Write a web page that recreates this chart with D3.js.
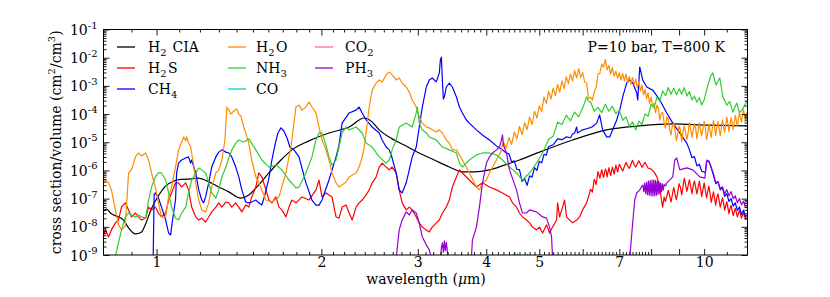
<!DOCTYPE html>
<html><head><meta charset="utf-8">
<script src="https://cdn.jsdelivr.net/npm/d3@7"></script>
<style>
body{margin:0;background:#fff}
svg{display:block}
text{font-family:"DejaVu Serif",serif;fill:#000}
</style>
</head><body>
<svg id="c" width="830" height="297"></svg>
<script>
// ---------------- DATA (wavelength in µm, log10 of cross section/volume in cm^2/cm^3) -------------
const seriesNames  = ["H2 CIA","H2S","CH4","H2O","NH3","CO","CO2","PH3"];
const seriesColors = ["#000000","#ff0000","#0000ff","#ff8c00","#32cd32","#00ced1","#ff69b4","#9400d3"];

const xMajorTicks   = [1,2,3,4,5,6,7,8,9,10];
const xLabeledTicks = [1,2,3,4,5,7,10];
const xMinorTicks   = [0.9,1.1,1.2,1.3,1.4,1.5,1.6,1.7,1.8,1.9,2.1,2.2,2.3,2.4,2.5,2.6,2.7,2.8,2.9,
  3.1,3.2,3.3,3.4,3.5,3.6,3.7,3.8,3.9,4.1,4.2,4.3,4.4,4.5,4.6,4.7,4.8,4.9,5.1,5.2,5.3,5.4,5.5,5.6,5.7,5.8,5.9,
  6.1,6.2,6.3,6.4,6.5,6.6,6.7,6.8,6.9,7.1,7.2,7.3,7.4,7.5,7.6,7.7,7.8,7.9,11];
const yExponents = [-9,-8,-7,-6,-5,-4,-3,-2,-1];
const annotation = "P=10 bar, T=800 K";

const h2cia = [[0.80,-7.44],[0.810,-7.37],[0.827,-7.54],[0.845,-7.62],[0.870,-7.76],[0.889,-8.04],[0.915,-8.25],[0.939,-8.18],[0.955,-7.90],[0.979,-7.35],[1.008,-6.90],[1.039,-6.55],[1.074,-6.38],[1.107,-6.32],[1.159,-6.30],[1.194,-6.27],[1.235,-6.37],[1.288,-6.55],[1.355,-6.76],[1.425,-6.98],[1.474,-6.87],[1.524,-6.59],[1.604,-6.09],[1.687,-5.63],[1.767,-5.27],[1.898,-4.95],[2.065,-4.67],[2.247,-4.46],[2.394,-4.14],[2.466,-4.25],[2.550,-4.56],[2.693,-4.88],[2.833,-5.10],[3.018,-5.38],[3.215,-5.63],[3.425,-5.88],[3.619,-6.05],[3.806,-6.05],[4.054,-5.98],[4.319,-5.81],[4.600,-5.63],[5.005,-5.35],[5.751,-4.92],[6.637,-4.56],[7.627,-4.42],[8.764,-4.35],[10.11,-4.39],[12.0,-4.42]];

const h2s = [[0.800,-8.32],[0.807,-8.11],[0.817,-8.36],[0.827,-8.11],[0.841,-7.86],[0.852,-7.76],[0.863,-7.30],[0.877,-7.15],[0.889,-7.40],[0.900,-7.65],[0.915,-7.51],[0.927,-7.65],[0.939,-7.76],[0.955,-7.69],[0.967,-7.30],[0.979,-7.40],[0.995,-7.30],[1.008,-7.51],[1.021,-7.65],[1.039,-7.51],[1.052,-7.05],[1.065,-6.80],[1.083,-6.44],[1.097,-6.44],[1.111,-6.59],[1.130,-6.44],[1.144,-6.69],[1.159,-7.30],[1.179,-7.65],[1.194,-7.76],[1.209,-7.69],[1.229,-7.83],[1.245,-7.65],[1.261,-7.47],[1.283,-7.30],[1.299,-7.15],[1.316,-7.30],[1.338,-7.12],[1.355,-7.15],[1.372,-7.30],[1.395,-7.15],[1.413,-7.30],[1.431,-7.47],[1.455,-7.23],[1.474,-7.30],[1.492,-6.94],[1.518,-6.59],[1.537,-6.09],[1.557,-6.23],[1.584,-6.69],[1.604,-7.05],[1.624,-7.15],[1.652,-6.94],[1.673,-7.30],[1.694,-7.40],[1.723,-7.65],[1.745,-7.30],[1.767,-7.05],[1.797,-7.15],[1.843,-6.94],[1.898,-7.05],[1.955,-6.69],[1.980,-6.34],[2.005,-6.94],[2.039,-6.80],[2.091,-6.94],[2.127,-7.65],[2.154,-7.69],[2.182,-7.30],[2.219,-7.23],[2.247,-7.51],[2.276,-7.76],[2.314,-7.30],[2.344,-7.15],[2.374,-7.05],[2.414,-6.87],[2.445,-6.69],[2.476,-6.44],[2.518,-6.23],[2.550,-5.88],[2.582,-5.74],[2.626,-5.88],[2.660,-5.98],[2.693,-5.88],[2.739,-6.09],[2.774,-6.69],[2.809,-7.15],[2.857,-7.40],[2.894,-7.30],[2.930,-7.40],[2.980,-7.65],[3.018,-7.86],[3.057,-8.01],[3.109,-8.11],[3.148,-8.18],[3.188,-8.01],[3.242,-7.86],[3.284,-7.76],[3.326,-7.51],[3.382,-7.30],[3.425,-7.05],[3.469,-6.59],[3.528,-6.23],[3.573,-5.98],[3.619,-6.09],[3.726,-6.34],[3.838,-6.59],[3.937,-6.44],[4.054,-6.59],[4.175,-6.69],[4.283,-6.80],[4.411,-6.94],[4.467,-7.15],[4.543,-7.30],[4.600,-7.51],[4.658,-7.65],[4.738,-7.76],[4.799,-7.86],[4.860,-8.01],[4.942,-8.11],[5.005,-8.01],[5.069,-8.22],[5.155,-7.93],[5.220,-8.22],[5.287,-8.01],[5.377,-7.76],[5.400,-7.15],[5.445,-7.65],[5.515,-7.30],[5.561,-7.05],[5.608,-7.65],[5.679,-7.76],[5.751,-7.86],[5.849,-7.76],[5.924,-7.65],[5.999,-7.40],[6.101,-7.15],[6.178,-6.80],[6.20,-6.66],[6.25,-6.77],[6.30,-6.32],[6.33,-6.40],[6.35,-6.50],[6.40,-6.04],[6.45,-6.27],[6.48,-6.10],[6.50,-5.97],[6.55,-6.25],[6.60,-5.95],[6.63,-6.05],[6.65,-6.23],[6.70,-5.90],[6.75,-6.18],[6.78,-6.00],[6.80,-5.88],[6.85,-6.13],[6.90,-5.81],[6.95,-6.05],[7.00,-5.78],[7.05,-5.90],[7.10,-6.02],[7.20,-5.71],[7.25,-5.85],[7.30,-5.93],[7.40,-5.64],[7.45,-5.80],[7.50,-5.88],[7.60,-5.66],[7.70,-5.89],[7.80,-5.71],[7.90,-5.92],[8.00,-5.95],[8.10,-6.05],[8.20,-6.23],[8.30,-6.59],[8.35,-7.00],[8.40,-7.30],[8.45,-6.95],[8.50,-7.10],[8.60,-6.71],[8.65,-6.90],[8.70,-7.12],[8.80,-6.60],[8.85,-6.85],[8.90,-7.04],[9.00,-6.47],[9.05,-6.60],[9.10,-6.87],[9.20,-6.27],[9.25,-6.50],[9.30,-6.74],[9.40,-6.33],[9.50,-6.82],[9.55,-6.55],[9.60,-6.37],[9.70,-6.83],[9.75,-6.60],[9.80,-6.39],[9.90,-6.92],[10.0,-6.44],[10.05,-6.70],[10.1,-6.97],[10.2,-6.56],[10.25,-6.80],[10.3,-7.13],[10.4,-6.76],[10.5,-7.23],[10.55,-6.95],[10.6,-6.83],[10.7,-7.30],[10.8,-6.97],[10.85,-7.15],[10.9,-7.41],[11.0,-7.11],[11.1,-7.53],[11.15,-7.35],[11.2,-7.25],[11.3,-7.60],[11.4,-7.34],[11.45,-7.50],[11.5,-7.65],[11.6,-7.41],[11.7,-7.69],[11.8,-7.50],[11.9,-7.74],[12.0,-7.65]];

const ch4 = [[0.985,-9.5],[0.990,-6.85],[0.995,-6.80],[1.008,-6.98],[1.021,-7.30],[1.039,-7.76],[1.052,-8.22],[1.061,-8.29],[1.065,-8.01],[1.083,-7.05],[1.088,-6.09],[1.097,-5.74],[1.111,-5.63],[1.130,-5.56],[1.144,-5.52],[1.154,-5.74],[1.159,-5.63],[1.179,-6.09],[1.194,-6.69],[1.209,-7.05],[1.219,-7.15],[1.229,-6.94],[1.245,-6.44],[1.261,-5.88],[1.283,-5.52],[1.299,-5.35],[1.316,-5.27],[1.338,-5.35],[1.355,-5.38],[1.372,-5.52],[1.395,-5.88],[1.413,-6.23],[1.431,-6.69],[1.455,-7.12],[1.474,-7.15],[1.492,-7.12],[1.518,-7.05],[1.537,-7.15],[1.557,-7.23],[1.577,-6.87],[1.604,-6.27],[1.624,-5.63],[1.645,-5.10],[1.666,-4.67],[1.687,-4.49],[1.708,-4.60],[1.731,-4.85],[1.752,-5.17],[1.782,-5.27],[1.820,-5.52],[1.874,-6.44],[1.922,-7.05],[1.955,-7.23],[1.980,-7.23],[2.005,-7.05],[2.065,-6.34],[2.127,-5.52],[2.154,-5.10],[2.182,-4.32],[2.247,-3.96],[2.314,-3.86],[2.344,-3.75],[2.374,-3.96],[2.414,-4.21],[2.476,-4.46],[2.550,-4.67],[2.582,-4.92],[2.626,-5.17],[2.660,-5.27],[2.693,-5.56],[2.739,-6.09],[2.774,-6.69],[2.809,-6.80],[2.857,-6.44],[2.894,-5.98],[2.930,-5.52],[2.980,-5.17],[3.018,-4.46],[3.057,-3.75],[3.109,-3.04],[3.148,-2.79],[3.188,-2.72],[3.242,-2.86],[3.284,-2.54],[3.298,-2.08],[3.312,-1.98],[3.326,-2.79],[3.340,-3.47],[3.354,-3.39],[3.382,-3.04],[3.425,-2.90],[3.469,-3.04],[3.528,-3.39],[3.573,-3.75],[3.619,-3.96],[3.680,-4.21],[3.726,-4.32],[3.838,-4.56],[3.937,-4.74],[4.054,-4.92],[4.175,-5.13],[4.283,-5.27],[4.35,-5.38],[4.40,-5.41],[4.45,-5.69],[4.50,-5.66],[4.55,-5.96],[4.60,-5.97],[4.65,-6.39],[4.70,-6.29],[4.75,-6.53],[4.80,-6.19],[4.85,-6.24],[4.90,-5.90],[4.95,-6.00],[5.00,-5.68],[5.05,-5.73],[5.10,-5.43],[5.15,-5.46],[5.20,-5.15],[5.30,-5.09],[5.40,-4.88],[5.50,-4.91],[5.60,-4.81],[5.70,-4.84],[5.75,-4.71],[5.80,-4.67],[5.85,-4.46],[5.87,-4.67],[5.999,-4.56],[6.10,-4.52],[6.178,-4.49],[6.25,-4.45],[6.364,-4.32],[6.444,-4.03],[6.526,-4.56],[6.637,-4.81],[6.721,-4.81],[6.807,-4.56],[6.923,-4.21],[7.011,-3.86],[7.100,-3.39],[7.221,-2.90],[7.312,-2.79],[7.405,-2.90],[7.532,-3.25],[7.564,-3.50],[7.627,-2.33],[7.724,-2.79],[7.855,-3.04],[8.056,-3.15],[8.297,-3.50],[8.546,-3.96],[8.764,-4.32],[9.026,-4.67],[9.296,-5.03],[9.40,-5.27],[9.50,-5.55],[9.60,-5.51],[9.70,-5.84],[9.80,-5.78],[9.90,-6.03],[10.0,-6.05],[10.05,-6.09],[10.1,-5.70],[10.2,-5.66],[10.3,-5.91],[10.4,-6.17],[10.5,-6.47],[10.6,-6.40],[10.7,-6.69],[10.8,-6.61],[10.9,-6.92],[11.0,-6.82],[11.1,-7.10],[11.2,-7.00],[11.3,-7.27],[11.4,-7.15],[11.5,-7.42],[11.6,-7.29],[11.7,-7.56],[11.8,-7.41],[11.9,-7.64],[12.0,-7.58]];

const h2o = [[0.800,-6.41],[0.807,-6.34],[0.817,-6.44],[0.827,-6.69],[0.841,-7.40],[0.852,-7.93],[0.863,-8.11],[0.877,-7.97],[0.881,-7.30],[0.889,-6.09],[0.900,-5.98],[0.915,-5.52],[0.927,-5.38],[0.939,-5.49],[0.955,-5.38],[0.967,-5.63],[0.979,-6.09],[0.995,-6.59],[1.008,-7.15],[1.021,-7.65],[1.039,-7.65],[1.052,-6.94],[1.065,-6.59],[1.083,-5.88],[1.097,-5.27],[1.111,-4.99],[1.121,-4.81],[1.130,-4.95],[1.135,-4.81],[1.144,-5.03],[1.154,-5.17],[1.169,-5.81],[1.179,-6.44],[1.194,-7.05],[1.209,-7.40],[1.229,-7.47],[1.245,-7.15],[1.261,-6.59],[1.283,-6.09],[1.299,-5.98],[1.316,-5.63],[1.333,-4.92],[1.344,-3.75],[1.355,-3.86],[1.366,-4.00],[1.384,-3.89],[1.401,-3.82],[1.413,-4.00],[1.425,-4.07],[1.443,-4.46],[1.462,-4.81],[1.474,-5.03],[1.492,-5.63],[1.518,-6.23],[1.537,-6.44],[1.584,-7.05],[1.624,-7.12],[1.673,-6.94],[1.723,-6.09],[1.745,-5.52],[1.760,-5.17],[1.797,-3.75],[1.820,-3.68],[1.843,-3.86],[1.874,-3.75],[1.898,-3.57],[1.922,-3.75],[1.955,-3.96],[1.980,-4.46],[2.005,-4.92],[2.039,-5.27],[2.065,-5.63],[2.091,-6.09],[2.127,-6.44],[2.154,-6.59],[2.219,-6.41],[2.247,-6.23],[2.314,-6.09],[2.344,-5.88],[2.374,-5.52],[2.394,-5.17],[2.414,-4.67],[2.445,-3.75],[2.476,-3.15],[2.518,-2.90],[2.550,-2.79],[2.582,-2.86],[2.626,-2.61],[2.660,-2.51],[2.693,-2.61],[2.739,-2.79],[2.774,-2.72],[2.809,-2.90],[2.857,-3.04],[2.894,-3.22],[2.930,-3.50],[2.980,-3.75],[3.018,-4.10],[3.057,-4.32],[3.109,-4.46],[3.148,-4.49],[3.188,-4.56],[3.242,-4.64],[3.284,-4.56],[3.326,-4.67],[3.382,-4.92],[3.425,-5.03],[3.469,-5.27],[3.528,-5.27],[3.619,-5.63],[3.726,-6.09],[3.838,-6.59],[3.887,-6.69],[3.937,-6.44],[4.003,-6.34],[4.054,-6.09],[4.175,-5.63],[4.25,-5.35],
 [4.30,-4.98],[4.35,-5.21],[4.40,-4.83],[4.45,-5.08],[4.50,-4.63],[4.55,-4.89],[4.60,-4.44],[4.65,-4.74],[4.70,-4.31],[4.75,-4.55],[4.80,-4.10],[4.85,-4.37],[4.90,-3.90],[4.95,-4.14],[5.00,-3.71],[5.05,-3.91],[5.10,-3.39],[5.15,-3.62],[5.20,-3.19],[5.25,-3.47],[5.30,-3.08],[5.35,-3.35],[5.40,-2.95],[5.45,-3.22],[5.50,-2.82],[5.55,-3.10],[5.60,-2.67],[5.65,-2.92],[5.70,-2.58],[5.75,-2.83],[5.80,-2.46],[5.85,-2.72],[5.90,-2.39],[5.95,-2.70],[6.00,-2.53],[6.05,-2.86],[6.10,-2.90],[6.15,-3.44],[6.20,-3.40],[6.25,-3.51],[6.30,-3.20],[6.35,-3.07],[6.40,-2.58],[6.45,-2.56],[6.50,-2.23],[6.55,-2.34],[6.60,-2.07],[6.65,-2.43],[6.70,-2.28],[6.75,-2.58],[6.80,-2.35],[6.85,-2.65],[6.90,-2.48],[6.95,-2.73],[7.00,-2.53],[7.05,-2.80],[7.10,-2.56],[7.15,-2.82],[7.20,-2.58],[7.25,-2.87],[7.30,-2.67],[7.35,-2.95],[7.40,-2.71],[7.45,-2.98],[7.50,-2.76],[7.55,-3.07],[7.60,-2.85],[7.65,-3.18],[7.70,-2.97],[7.75,-3.32],[7.80,-3.13],[7.85,-3.46],[7.90,-3.25],[7.95,-3.62],
 [8.00,-3.41],[8.05,-3.70],[8.10,-3.62],[8.15,-3.95],[8.20,-3.68],[8.25,-3.80],[8.30,-4.21],[8.35,-3.98],[8.40,-3.94],[8.45,-4.30],[8.50,-4.50],[8.55,-4.10],[8.60,-4.17],[8.65,-4.55],[8.70,-4.74],[8.75,-4.40],[8.80,-4.31],[8.85,-4.62],[8.90,-4.94],[8.95,-4.70],[9.00,-4.43],[9.05,-4.58],[9.10,-4.99],[9.15,-4.62],[9.20,-4.42],[9.30,-4.91],[9.35,-4.66],[9.40,-4.30],[9.45,-4.55],[9.50,-4.83],[9.60,-4.34],[9.65,-4.50],[9.70,-4.88],[9.80,-4.31],[9.85,-4.60],[9.90,-4.76],[10.0,-4.26],[10.05,-4.45],[10.1,-4.91],[10.15,-4.70],[10.2,-4.36],[10.3,-4.83],[10.35,-4.50],[10.4,-4.23],[10.5,-4.76],[10.55,-4.45],[10.6,-4.27],[10.7,-4.77],[10.75,-4.52],[10.8,-4.21],[10.9,-4.64],[10.95,-4.38],[11.0,-4.11],[11.1,-4.62],[11.15,-4.35],[11.2,-4.13],[11.3,-4.55],[11.35,-4.30],[11.4,-4.05],[11.5,-4.42],[11.55,-4.18],[11.6,-3.94],[11.7,-4.29],[11.75,-4.06],[11.8,-3.85],[11.9,-4.18],[11.95,-3.98],[12.0,-3.93]];

const nh3 = [[0.835,-9.3],[0.852,-8.57],[0.863,-8.11],[0.877,-7.65],[0.889,-7.51],[0.900,-7.58],[0.915,-7.65],[0.927,-7.58],[0.939,-7.65],[0.955,-7.69],[0.967,-7.05],[0.979,-6.59],[0.995,-6.23],[1.008,-6.09],[1.021,-6.09],[1.039,-6.34],[1.052,-6.80],[1.065,-7.30],[1.083,-7.69],[1.097,-7.76],[1.111,-7.51],[1.130,-7.30],[1.144,-6.80],[1.159,-6.34],[1.179,-6.09],[1.194,-5.91],[1.209,-5.98],[1.229,-6.09],[1.245,-6.44],[1.261,-6.80],[1.283,-6.98],[1.299,-6.69],[1.316,-6.23],[1.338,-5.88],[1.355,-5.56],[1.372,-5.27],[1.395,-5.03],[1.413,-4.92],[1.443,-4.99],[1.474,-4.88],[1.518,-5.27],[1.557,-5.63],[1.604,-5.88],[1.652,-5.81],[1.694,-5.98],[1.745,-6.34],[1.797,-6.62],[1.820,-6.59],[1.874,-6.09],[1.922,-5.52],[1.955,-4.92],[1.980,-4.67],[2.005,-4.67],[2.039,-5.10],[2.065,-5.52],[2.091,-5.81],[2.127,-5.63],[2.154,-5.17],[2.182,-4.67],[2.219,-4.46],[2.247,-4.56],[2.314,-4.46],[2.374,-4.67],[2.414,-5.03],[2.476,-5.17],[2.550,-5.52],[2.626,-5.74],[2.660,-5.63],[2.693,-5.27],[2.739,-4.92],[2.774,-4.46],[2.857,-4.32],[2.930,-4.46],[2.980,-3.96],[2.993,-3.75],[3.018,-4.32],[3.057,-4.56],[3.109,-4.67],[3.148,-4.81],[3.242,-4.92],[3.326,-5.17],[3.425,-5.27],[3.528,-5.38],[3.573,-5.74],[3.619,-5.88],[3.726,-5.63],[3.838,-5.45],[3.937,-5.38],[4.054,-5.38],[4.175,-5.45],[4.283,-5.63],[4.411,-5.88],[4.543,-6.09],[4.658,-6.34],[4.799,-6.09],[4.942,-5.74],[5.069,-5.38],[5.20,-4.89],[5.30,-4.79],[5.40,-4.29],[5.50,-4.37],[5.60,-4.04],[5.70,-4.24],[5.80,-3.93],[5.90,-4.10],[6.00,-3.78],[6.05,-3.60],[6.10,-3.39],[6.15,-3.55],[6.20,-3.56],[6.30,-3.90],[6.40,-3.76],[6.50,-3.95],[6.60,-3.65],[6.70,-3.90],[6.80,-3.72],[6.90,-3.98],[7.00,-3.86],[7.10,-4.22],[7.20,-4.10],[7.30,-4.44],[7.40,-4.28],[7.50,-4.56],[7.60,-4.25],[7.70,-4.37],[7.80,-4.00],[7.90,-4.08],[8.00,-3.66],[8.10,-3.78],[8.20,-3.40],[8.30,-3.55],[8.40,-3.18],[8.50,-3.35],[8.60,-3.06],[8.70,-3.30],[8.80,-3.08],[8.90,-3.32],[9.00,-3.10],[9.10,-3.30],[9.20,-3.06],[9.30,-3.36],[9.40,-3.20],[9.50,-3.50],[9.60,-3.36],[9.70,-3.58],[9.80,-3.42],[9.90,-3.68],[10.0,-3.50],[10.16,-2.97],[10.28,-2.65],[10.37,-2.54],[10.51,-2.97],[10.68,-2.72],[10.82,-3.39],[11.00,-3.68],[11.14,-3.55],[11.28,-3.93],[11.47,-3.61],[11.60,-3.95],[11.72,-3.86],[11.85,-3.70],[12.0,-3.50]];

const co  = [[4.45,-9.3],[4.50,-8.93],[4.53,-9.2],[4.56,-8.95],[4.60,-9.2],[4.74,-9.2],[4.76,-8.97],[4.79,-9.3]];
const co2 = [[4.20,-9.4],[4.26,-9.2],[4.32,-9.4]];

const ph3 = [[2.739,-9.11],[2.774,-8.11],[2.809,-7.76],[2.857,-7.47],[2.894,-7.58],[2.930,-7.40],[2.980,-7.51],[3.018,-7.86],[3.057,-8.36],[3.109,-8.64],[3.148,-8.82],[3.175,-9.11],[3.30,-9.2],[3.312,-8.75],[3.326,-8.57],[3.340,-8.90],[3.354,-8.50],[3.368,-8.85],[3.382,-8.55],[3.400,-8.95],[3.420,-9.2],[3.758,-9.11],[3.774,-8.47],[3.838,-8.01],[3.887,-7.30],[3.937,-6.44],[4.003,-5.74],[4.054,-5.52],[4.106,-5.38],[4.175,-5.27],[4.229,-5.17],[4.265,-4.92],[4.283,-4.74],[4.300,-5.10],[4.355,-5.38],[4.411,-5.98],[4.543,-6.69],[4.600,-7.15],[4.658,-7.51],[4.738,-7.51],[4.799,-7.40],[4.942,-7.47],[5.069,-7.65],[5.155,-7.69],[5.220,-8.01],[5.265,-8.36],[5.287,-9.11],[7.312,-9.11],[7.405,-7.86],[7.468,-7.05],[7.532,-6.80],[7.627,-6.69],[7.70,-6.55],[7.73,-6.52],[7.76,-6.75],[7.79,-6.45],[7.82,-6.82],[7.85,-6.42],[7.88,-6.86],[7.91,-6.38],[7.94,-6.88],[7.97,-6.36],[8.00,-6.90],[8.03,-6.34],[8.06,-6.90],[8.09,-6.34],[8.12,-6.90],[8.15,-6.35],[8.18,-6.88],[8.21,-6.38],[8.24,-6.85],[8.27,-6.40],[8.30,-6.82],[8.33,-6.45],[8.36,-6.75],[8.39,-6.48],[8.42,-6.70],[8.45,-6.50],[8.50,-6.55],[8.546,-6.44],[8.764,-6.23],[8.838,-5.63],[8.913,-5.56],[9.026,-5.98],[9.296,-5.91],[9.534,-5.98],[9.820,-6.23],[10.03,-6.27],[10.11,-5.63],[10.24,-5.74],[10.4,-6.12],[10.5,-6.42],[10.6,-6.40],[10.7,-6.65],[10.8,-6.58],[10.9,-6.83],[11.0,-6.68],[11.1,-6.90],[11.2,-6.75],[11.3,-7.00],[11.4,-6.90],[11.5,-7.15],[11.6,-7.00],[11.7,-7.22],[11.8,-7.09],[11.9,-7.31],[12.0,-7.30]];

const seriesData = [h2cia, h2s, ch4, h2o, nh3, co, co2, ph3];

// ---------------- LAYOUT ----------------
const L = 103.5, R = 747.5, T = 29.5, B = 255;
const svg = d3.select("#c");
const x = d3.scaleLog().domain([0.8, 12]).range([L, R]);
const y = d3.scaleLog().domain([1e-9, 1e-1]).range([B, T]);

svg.append("defs").append("clipPath").attr("id","clip")
  .append("rect").attr("x",L).attr("y",T).attr("width",R-L).attr("height",B-T);

const line = d3.line().x(d => x(d[0])).y(d => y(Math.pow(10, d[1])));
const smooth = d3.line().curve(d3.curveMonotoneX).x(d => x(d[0])).y(d => y(Math.pow(10, d[1])));

const gLines = svg.append("g").attr("clip-path","url(#clip)");
seriesData.forEach((data, i) => {
  gLines.append("path").datum(data)
    .attr("d", i === 0 ? smooth : line)
    .attr("fill","none").attr("stroke", seriesColors[i])
    .attr("stroke-width", 1.2).attr("stroke-linejoin","round");
});

// ---------------- AXES ----------------
const yMajor = yExponents.map(e => Math.pow(10, e));
const yMinor = [];
yExponents.slice(0, -1).forEach(e => { for (let k = 2; k <= 9; k++) yMinor.push(k * Math.pow(10, e)); });

function styleAxis(g){ g.select(".domain").remove(); g.selectAll(".tick line").attr("stroke","#000").attr("stroke-width",0.9); }

svg.append("g").attr("transform",`translate(0,${B})`)
  .call(d3.axisBottom(x).tickValues(xMajorTicks).tickSizeInner(-6).tickSizeOuter(0).tickPadding(2)
    .tickFormat(d => xLabeledTicks.includes(d) ? String(d) : ""))
  .call(styleAxis)
  .call(g => g.selectAll(".tick text").attr("font-size",14).attr("font-family","DejaVu Serif, serif").attr("fill","#000"));
svg.append("g").attr("transform",`translate(0,${B})`)
  .call(d3.axisBottom(x).tickValues(xMinorTicks).tickSizeInner(-3).tickSizeOuter(0).tickFormat(""))
  .call(styleAxis);
svg.append("g").attr("transform",`translate(0,${T})`)
  .call(d3.axisTop(x).tickValues(xMajorTicks).tickSizeInner(-6).tickSizeOuter(0).tickFormat(""))
  .call(styleAxis);
svg.append("g").attr("transform",`translate(0,${T})`)
  .call(d3.axisTop(x).tickValues(xMinorTicks).tickSizeInner(-3).tickSizeOuter(0).tickFormat(""))
  .call(styleAxis);

svg.append("g").attr("transform",`translate(${L},0)`)
  .call(d3.axisLeft(y).tickValues(yMajor).tickSizeInner(-6).tickSizeOuter(0).tickPadding(6).tickFormat(() => ""))
  .call(styleAxis)
  .call(g => g.selectAll(".tick text").each(function(d){
    const t = d3.select(this).attr("font-size",14).attr("font-family","DejaVu Serif, serif").attr("fill","#000").attr("dy","0.36em");
    t.append("tspan").text("10");
    t.append("tspan").attr("dy",-6.5).attr("font-size",10).text(String(Math.round(Math.log10(d))));
  }));
svg.append("g").attr("transform",`translate(${L},0)`)
  .call(d3.axisLeft(y).tickValues(yMinor).tickSizeInner(-3).tickSizeOuter(0).tickFormat(""))
  .call(styleAxis);
svg.append("g").attr("transform",`translate(${R},0)`)
  .call(d3.axisRight(y).tickValues(yMajor).tickSizeInner(-6).tickSizeOuter(0).tickFormat(""))
  .call(styleAxis);
svg.append("g").attr("transform",`translate(${R},0)`)
  .call(d3.axisRight(y).tickValues(yMinor).tickSizeInner(-3).tickSizeOuter(0).tickFormat(""))
  .call(styleAxis);

svg.append("rect").attr("x",L).attr("y",T).attr("width",R-L).attr("height",B-T)
  .attr("fill","none").attr("stroke","#000").attr("stroke-width",1);

// axis titles
const xt = svg.append("text").attr("x",(L+R)/2 + 0.5).attr("y",284).attr("text-anchor","middle").attr("font-size",14);
xt.append("tspan").text("wavelength (");
xt.append("tspan").attr("font-style","italic").text("μ");
xt.append("tspan").text("m)");

const yt = svg.append("text").attr("transform",`translate(61,${(T+B)/2}) rotate(-90)`).attr("text-anchor","middle").attr("font-size",14);
yt.append("tspan").text("cross section/volume (cm");
yt.append("tspan").attr("dy",-6).attr("font-size",10).text("2");
yt.append("tspan").attr("dy",6).text("/cm");
yt.append("tspan").attr("dy",-6).attr("font-size",10).text("3");
yt.append("tspan").attr("dy",6).text(")");

// ---------------- LEGEND ----------------
const legCols = [{lx:117, tx:148}, {lx:228, tx:256}, {lx:315, tx:345}];
const legRows = [47, 68, 89];
seriesNames.forEach((name, i) => {
  const col = legCols[Math.floor(i / 3)], ry = legRows[i % 3];
  svg.append("line").attr("x1",col.lx).attr("x2",col.lx+18).attr("y1",ry).attr("y2",ry)
    .attr("stroke",seriesColors[i]).attr("stroke-width",1.3);
  const t = svg.append("text").attr("x",col.tx).attr("y",ry+5).attr("font-size",14);
  const parts = name.match(/[0-9]+|[^0-9]+/g);
  let shifted = false;
  parts.forEach(p => {
    if (/^[0-9]+$/.test(p)) {
      t.append("tspan").attr("dy",4).attr("font-size",10).text(p);
      shifted = true;
    } else {
      const s = t.append("tspan").text(p);
      if (shifted) { s.attr("dy",-4).attr("dx",1.5); shifted = false; }
    }
  });
});

svg.append("text").attr("x",725).attr("y",52).attr("text-anchor","end").attr("font-size",14).text(annotation);
</script>
</body></html>
